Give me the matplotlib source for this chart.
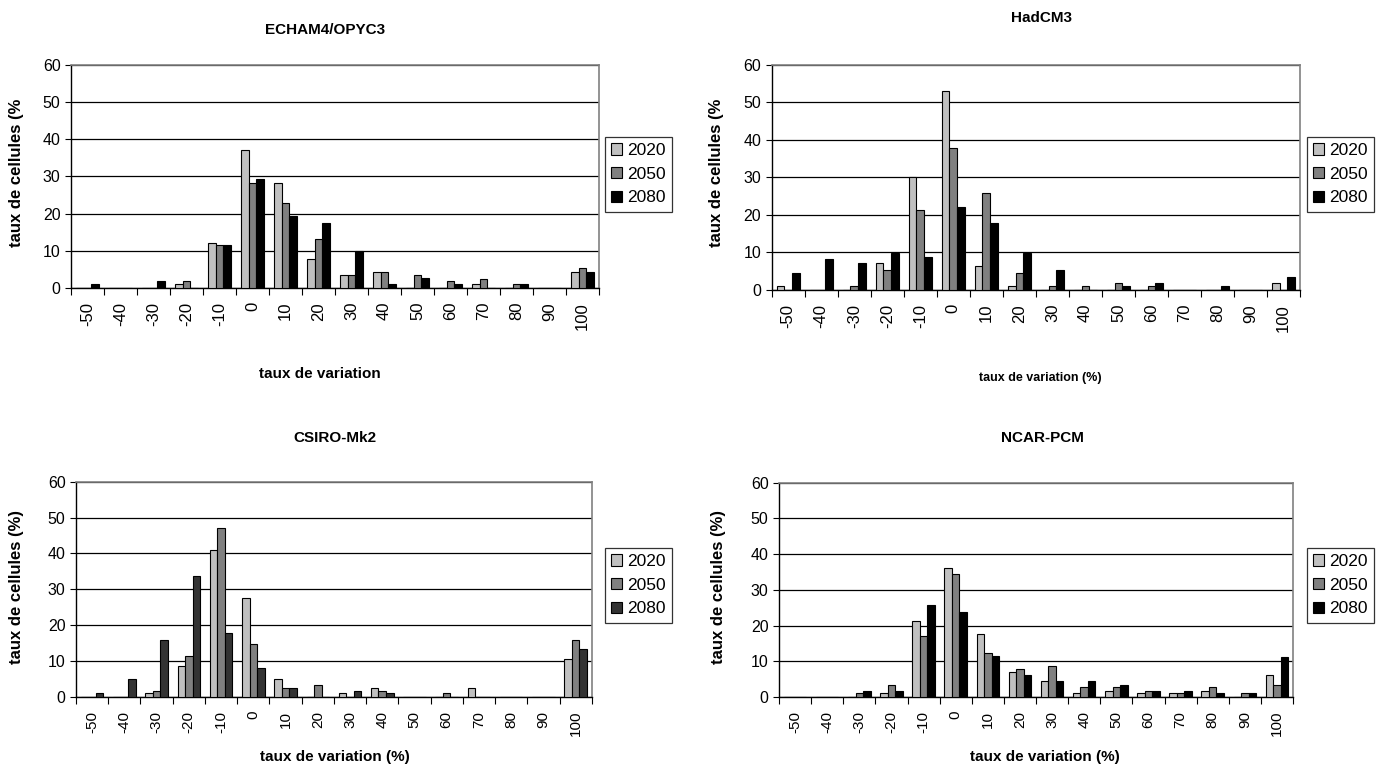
import numpy as np
import matplotlib.pyplot as plt

plt.rcParams['font.family'] = ['Liberation Sans', 'DejaVu Sans']

categories = ['-50', '-40', '-30', '-20', '-10', '0', '10', '20',
              '30', '40', '50', '60', '70', '80', '90', '100']
years = ['2020', '2050', '2080']

# ECHAM4/OPYC3
echam_2020 = [0, 0, 0, 1, 12.2, 37, 28.3, 7.8, 3.4, 4.4, 0, 0, 1, 0, 0, 4.4]
echam_2050 = [0, 0, 0, 2, 11.6, 28.3, 22.9, 13.1, 3.4, 4.4, 3.4, 2, 2.5, 1, 0, 5.3]
echam_2080 = [1, 0, 2, 0, 11.6, 29.3, 19.5, 17.6, 10, 1, 2.6, 1, 0, 1, 0, 4.4]

# HadCM3
had_2020 = [1, 0, 0, 7.3, 30.2, 53.1, 6.3, 1, 0, 0, 0, 0, 0, 0, 0, 1.9]
had_2050 = [0, 0, 1, 5.4, 21.2, 37.9, 25.8, 4.4, 1, 1, 1.9, 1, 0, 0, 0, 0]
had_2080 = [4.4, 8.2, 7.3, 9.8, 8.8, 22.2, 17.8, 9.8, 5.4, 0, 1, 1.9, 0, 1, 0, 3.4]

# CSIRO-Mk2
csiro_2020 = [0, 0, 1, 8.7, 41, 27.6, 5.1, 0, 1, 2.6, 0, 0, 2.6, 0, 0, 10.6]
csiro_2050 = [0, 0, 1.6, 11.3, 47, 14.8, 2.5, 3.4, 0, 1.6, 0, 1, 0, 0, 0, 15.8]
csiro_2080 = [1, 5.1, 15.9, 33.8, 17.8, 8, 2.5, 0, 1.6, 1, 0, 0, 0, 0, 0, 13.3]

# NCAR-PCM
ncar_2020 = [0, 0, 0, 1, 21.2, 36.2, 17.6, 7, 4.5, 1, 1.7, 1, 1, 1.7, 0, 6.2]
ncar_2050 = [0, 0, 1, 3.5, 17, 34.5, 12.3, 7.8, 8.7, 2.7, 2.7, 1.7, 1, 2.7, 1, 3.5]
ncar_2080 = [0, 0, 1.6, 1.6, 25.8, 23.8, 11.4, 6.1, 4.5, 4.6, 3.5, 1.7, 1.7, 1, 1, 11.3]

panels = [
    dict(title='ECHAM4/OPYC3', data=[echam_2020, echam_2050, echam_2080],
         colors=['#c0c0c0', '#808080', '#000000'],
         rect=[0.0514, 0.6255, 0.382, 0.290], title_xy=(325, 30),
         xlabel='taux de variation', xl_xy=(320, 374), xl_size=11,
         ylabel='taux de cellules (%', yl_xy=(17, 173), xt_size=12,
         leg=(605, 137)),
    dict(title='HadCM3', data=[had_2020, had_2050, had_2080],
         colors=['#c0c0c0', '#808080', '#000000'],
         rect=[0.5584, 0.6229, 0.3823, 0.2926], title_xy=(1042, 18),
         xlabel='taux de variation (%)', xl_xy=(1040, 378), xl_size=9,
         ylabel='taux de cellules (%', yl_xy=(717, 173), xt_size=12,
         leg=(1307, 137)),
    dict(title='CSIRO-Mk2', data=[csiro_2020, csiro_2050, csiro_2080],
         colors=['#c0c0c0', '#808080', '#333333'],
         rect=[0.055, 0.0936, 0.3732, 0.280], title_xy=(335, 438),
         xlabel='taux de variation (%)', xl_xy=(335, 757), xl_size=11,
         ylabel='taux de cellules (%)', yl_xy=(17, 587), xt_size=11,
         leg=(605, 548)),
    dict(title='NCAR-PCM', data=[ncar_2020, ncar_2050, ncar_2080],
         colors=['#c0c0c0', '#808080', '#000000'],
         rect=[0.5637, 0.0936, 0.3719, 0.2787], title_xy=(1042, 438),
         xlabel='taux de variation (%)', xl_xy=(1045, 757), xl_size=11,
         ylabel='taux de cellules (%)', yl_xy=(719, 587), xt_size=11,
         leg=(1307, 548)),
]

W, H = 1382, 769
fig = plt.figure(figsize=(W / 100, H / 100), dpi=100)

x = np.arange(len(categories)) + 0.5
bw = 0.233

for p in panels:
    ax = fig.add_axes(p['rect'])
    for k, (vals, col) in enumerate(zip(p['data'], p['colors'])):
        ax.bar(x + (k - 1) * bw, vals, width=bw, color=col,
               edgecolor='black', linewidth=0.8, label=years[k], zorder=3)
    ax.set_xlim(0, len(categories))
    ax.set_ylim(0, 60)
    ax.set_yticks(range(0, 61, 10))
    ax.tick_params(axis='y', labelsize=11.5, length=4, direction='out')
    ax.set_xticks(np.arange(len(categories) + 1))
    ax.set_xticklabels([])
    ax.set_xticks(x, minor=True)
    ax.set_xticklabels(categories, minor=True, rotation=90,
                       fontsize=p['xt_size'])
    ax.tick_params(axis='x', which='major', length=5, direction='out')
    ax.tick_params(axis='x', which='minor', length=0, pad=10)
    ax.yaxis.grid(True, color='black', linewidth=0.9, zorder=0)
    ax.set_axisbelow(True)
    for s in ['top', 'right']:
        ax.spines[s].set_color('#808080')
        ax.spines[s].set_linewidth(1.2)
    for s in ['left', 'bottom']:
        ax.spines[s].set_color('black')
        ax.spines[s].set_linewidth(1.0)

    fig.text(p['title_xy'][0] / W, 1 - p['title_xy'][1] / H, p['title'],
             ha='center', va='center', fontsize=11, fontweight='bold')
    fig.text(p['xl_xy'][0] / W, 1 - p['xl_xy'][1] / H, p['xlabel'],
             ha='center', va='center', fontsize=p['xl_size'], fontweight='bold')
    fig.text(p['yl_xy'][0] / W, 1 - p['yl_xy'][1] / H, p['ylabel'],
             ha='center', va='center', rotation=90, fontsize=12,
             fontweight='bold')

    leg = ax.legend(loc='upper left',
                    bbox_to_anchor=(p['leg'][0] / W, 1 - p['leg'][1] / H),
                    bbox_transform=fig.transFigure, fontsize=12.5,
                    frameon=True, fancybox=False, edgecolor='black',
                    handlelength=0.65, handleheight=0.65, handletextpad=0.3,
                    borderpad=0.35, labelspacing=0.5, borderaxespad=0)
    leg.get_frame().set_linewidth(0.9)

fig.savefig('out.png', dpi=100)
